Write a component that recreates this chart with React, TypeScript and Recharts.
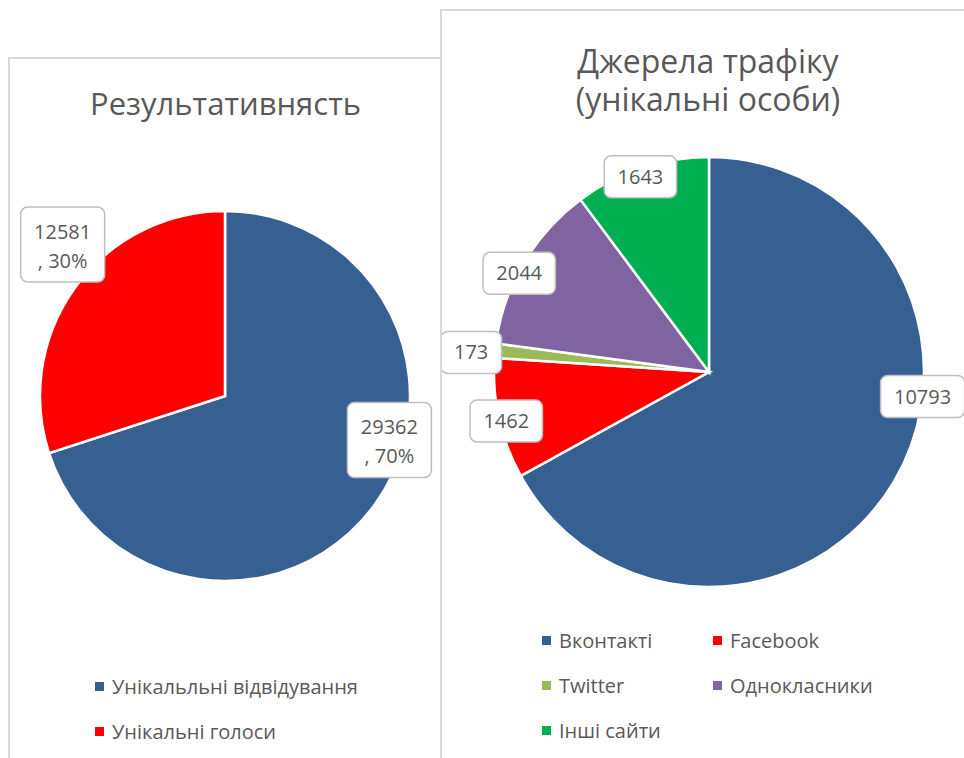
import React from 'react';
import { PieChart, Pie, Cell, Legend } from 'recharts';

// Результативність
const resultNames = ['Унікальльні відвідування', 'Унікальні голоси'];
const resultValues = [29362, 12581];
const resultColors = ['#376092', '#FF0000'];

// Джерела трафіку
const trafficNames = ['Вконтакті', 'Facebook', 'Twitter', 'Однокласники', 'Інші сайти'];
const trafficValues = [10793, 1462, 173, 2044, 1643];
const trafficColors = ['#376092', '#FF0000', '#9BBB59', '#8064A2', '#00B050'];

const resultData = resultNames.map((name, i) => ({ name, value: resultValues[i] }));
const trafficData = trafficNames.map((name, i) => ({ name, value: trafficValues[i] }));

// label nudges (Excel "best fit"): angle shift in degrees, radius factor
const resultNudge = [
  { da: 21, k: 0.92 },
  { da: -7, k: 1.2 },
];
const trafficNudge = [
  { da: 24, k: 1.0 },
  { da: 1, k: 0.97 },
  { da: 1, k: 1.11 },
  { da: 3, k: 0.995 },
  { da: 1, k: 0.963 },
];

const RAD = Math.PI / 180;
const TEXT = '#595959';
const FONT = '"Open Sans", sans-serif';

const makeLabel = (nudge: { da: number; k: number }[], withPct: boolean) => (props: any) => {
  const { cx, cy, midAngle, outerRadius, index, value, percent } = props;
  const n = nudge[index];
  const a = (midAngle + n.da) * RAD;
  const r = outerRadius * n.k;
  const x = cx + Math.cos(-a) * r;
  const y = cy + Math.sin(-a) * r;
  const lines = withPct ? [String(value), ', ' + Math.round(percent * 100) + '%'] : [String(value)];
  const w = Math.max(...lines.map((l) => l.length)) * 11.6 + 26;
  const h = withPct ? 75 : 42;
  return (
    <g key={'lbl' + index}>
      <rect x={x - w / 2} y={y - h / 2} width={w} height={h} rx={7} ry={7}
        fill="#fff" stroke="#bfbfbf" strokeWidth={1.5} />
      {lines.map((l, i) => (
        <text key={i} x={x} y={withPct ? y - 6 + i * 29 : y + 7} textAnchor="middle"
          fill={TEXT} fontSize={20} fontFamily={FONT}>
          {l}
        </text>
      ))}
    </g>
  );
};

const makeLegend = (names: string[], colors: string[], cols: number, colWidth: number) => (props: any) => {
  const payload = [...(props.payload || [])].sort(
    (a: any, b: any) => names.indexOf(a.value) - names.indexOf(b.value)
  );
  return (
    <div style={{ display: 'grid', gridTemplateColumns: `repeat(${cols}, ${colWidth}px)` }}>
      {payload.map((p: any) => (
        <div key={p.value} style={{ display: 'flex', alignItems: 'center', height: 45 }}>
          <span style={{ width: 9, height: 9, background: colors[names.indexOf(p.value)], marginRight: 8, flex: 'none' }} />
          <span style={{ fontSize: 20, color: TEXT, fontFamily: FONT, whiteSpace: 'nowrap' }}>{p.value}</span>
        </div>
      ))}
    </div>
  );
};

const panel: React.CSSProperties = {
  position: 'absolute',
  boxSizing: 'border-box',
  border: '2px solid #d9d9d9',
  background: '#fff',
  height: 800,
};

const titleStyle: React.CSSProperties = {
  position: 'absolute',
  left: 0,
  textAlign: 'center',
  color: TEXT,
  whiteSpace: 'nowrap',
};

export default function App() {
  return (
    <div style={{ position: 'absolute', left: 0, top: 0, width: 964, height: 758, overflow: 'hidden', background: '#fff', fontFamily: FONT }}>
      <div style={{ ...panel, left: 8, top: 57, width: 434 }}>
        <div style={{ ...titleStyle, width: 431, top: 24, fontSize: 31, lineHeight: '40px' }}>
          Результативнясть
        </div>
        <PieChart width={429} height={700} margin={{ top: 0, right: 0, bottom: 0, left: 0 }} style={{ position: 'absolute', left: 0, top: 0 }}>
          <Pie data={resultData} dataKey="value" nameKey="name" cx={215} cy={337} outerRadius={185}
            startAngle={90} endAngle={-270} stroke="#fff" strokeWidth={2.5}
            label={makeLabel(resultNudge, true)} labelLine={false} isAnimationActive={false}>
            {resultData.map((_, i) => <Cell key={i} fill={resultColors[i]} />)}
          </Pie>
          <Legend content={makeLegend(resultNames, resultColors, 1, 340)} wrapperStyle={{ left: 85, top: 605, width: 340 }} />
        </PieChart>
      </div>
      <div style={{ ...panel, left: 440, top: 9, width: 600 }}>
        <div style={{ ...titleStyle, width: 532, top: 32, fontSize: 32, lineHeight: '36px', height: 36 }}>
          Джерела трафіку
        </div>
        <div style={{ ...titleStyle, width: 532, top: 70, fontSize: 32, lineHeight: '36px', height: 36 }}>
          (унікальні особи)
        </div>
        <PieChart width={522} height={747} margin={{ top: 0, right: 0, bottom: 0, left: 0 }} style={{ position: 'absolute', left: 0, top: 0 }}>
          <Pie data={trafficData} dataKey="value" nameKey="name" cx={267} cy={361} outerRadius={215}
            startAngle={90} endAngle={-270} stroke="#fff" strokeWidth={2.5}
            label={makeLabel(trafficNudge, false)} labelLine={false} isAnimationActive={false}>
            {trafficData.map((_, i) => <Cell key={i} fill={trafficColors[i]} />)}
          </Pie>
          <Legend content={makeLegend(trafficNames, trafficColors, 2, 171)} wrapperStyle={{ left: 100, top: 607, width: 342 }} />
        </PieChart>
      </div>
    </div>
  );
}
